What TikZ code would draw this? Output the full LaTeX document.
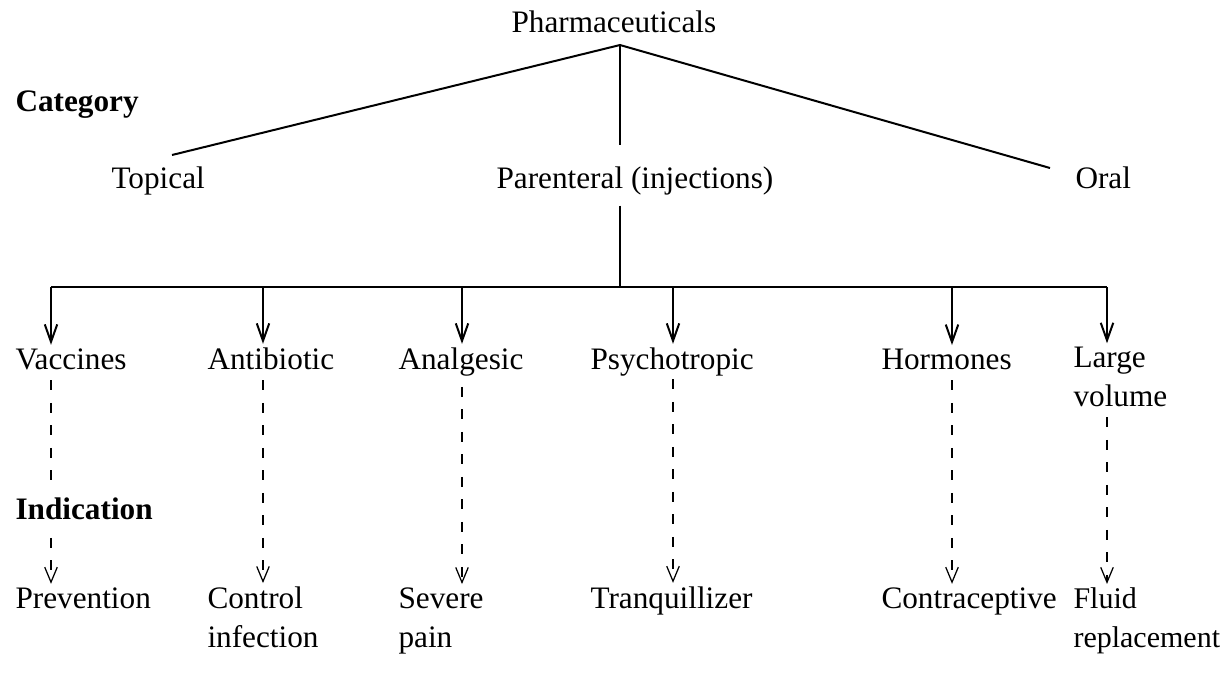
\documentclass[tikz,border=0pt]{standalone}
\usepackage{fontspec}
\setmainfont{Liberation Serif}
\usetikzlibrary{arrows.meta}
\begin{document}
\begin{tikzpicture}[x=0.4pt,y=-0.4pt,line width=0.8pt,
  every node/.style={font=\fontsize{12.5}{15.5}\selectfont,inner sep=1pt,anchor=base west,align=left},
  hd/.style={font=\fontsize{12.5}{15.5}\selectfont\bfseries},
  arr/.style={-{Straight Barb[length=7pt,width=5pt]}},
  dsh/.style={-{Straight Barb[length=6pt,width=5pt]},line width=0.5pt,dash pattern=on 4pt off 5pt}]
\path[use as bounding box] (0,0) rectangle (1225,682);
\coordinate (apex) at (620,45);
\coordinate (tend) at (172,155);
\coordinate (oend) at (1050,168);
\coordinate (b1) at (51,287);
\coordinate (b2) at (263,287);
\coordinate (b3) at (462,287);
\coordinate (b4) at (673,287);
\coordinate (b5) at (952,287);
\coordinate (b6) at (1107,287);
\node (pharm) at (508,32) {Pharmaceuticals};
\node[hd] (category) at (12,111) {Category};
\node (topical) at (108,188) {Topical};
\node (parent) at (493,188) {Parenteral (injections)};
\node (oral) at (1072,188) {Oral};
\node (vaccines) at (12,369) {Vaccines};
\node (antibiotic) at (204,369) {Antibiotic};
\node (analgesic) at (395,369) {Analgesic};
\node (psycho) at (587,369) {Psychotropic};
\node (hormones) at (878,369) {Hormones};
\node (largevol) at (1070,406) {Large\\volume};
\node (prevention) at (12,608) {Prevention};
\node (control) at (204,647) {Control\\infection};
\node (severe) at (395,647) {Severe\\pain};
\node (tranq) at (587,608) {Tranquillizer};
\node (contra) at (878,608) {Contraceptive};
\node[font=\fontsize{12}{15.5}\selectfont] (fluid) at (1070,647) {Fluid\\replacement};
\draw (tend) -- (apex) -- (oend);
\draw[shorten >=7pt] (apex) -- (apex |- parent.north);
\draw[shorten <=3pt] (apex |- parent.south) -- (apex |- b1);
\draw (b1) -- (b6);
\draw[arr] (b1) -- (b1 |- vaccines.north);
\draw[arr] (b2) -- (b2 |- antibiotic.north);
\draw[arr] (b3) -- (b3 |- analgesic.north);
\draw[arr] (b4) -- (b4 |- psycho.north);
\draw[arr] (b5) -- (b5 |- hormones.north);
\draw[arr] (b6) -- (b6 |- largevol.north);
\draw[dsh,shorten <=3pt] (b1 |- vaccines.south) -- (b1 |- prevention.north);
\draw[dsh,shorten <=3pt] (b2 |- antibiotic.south) -- (b2 |- control.north);
\draw[dsh,shorten <=3pt] (b3 |- analgesic.south) -- (b3 |- severe.north);
\draw[dsh] (b4 |- psycho.south) -- (b4 |- tranq.north);
\draw[dsh,shorten <=3pt] (b5 |- hormones.south) -- (b5 |- contra.north);
\draw[dsh,shorten <=3pt] (b6 |- largevol.south) -- (b6 |- fluid.north);
\node[hd,fill=white,inner sep=3pt] (indication) at (7,519) {Indication};
\end{tikzpicture}
\end{document}
